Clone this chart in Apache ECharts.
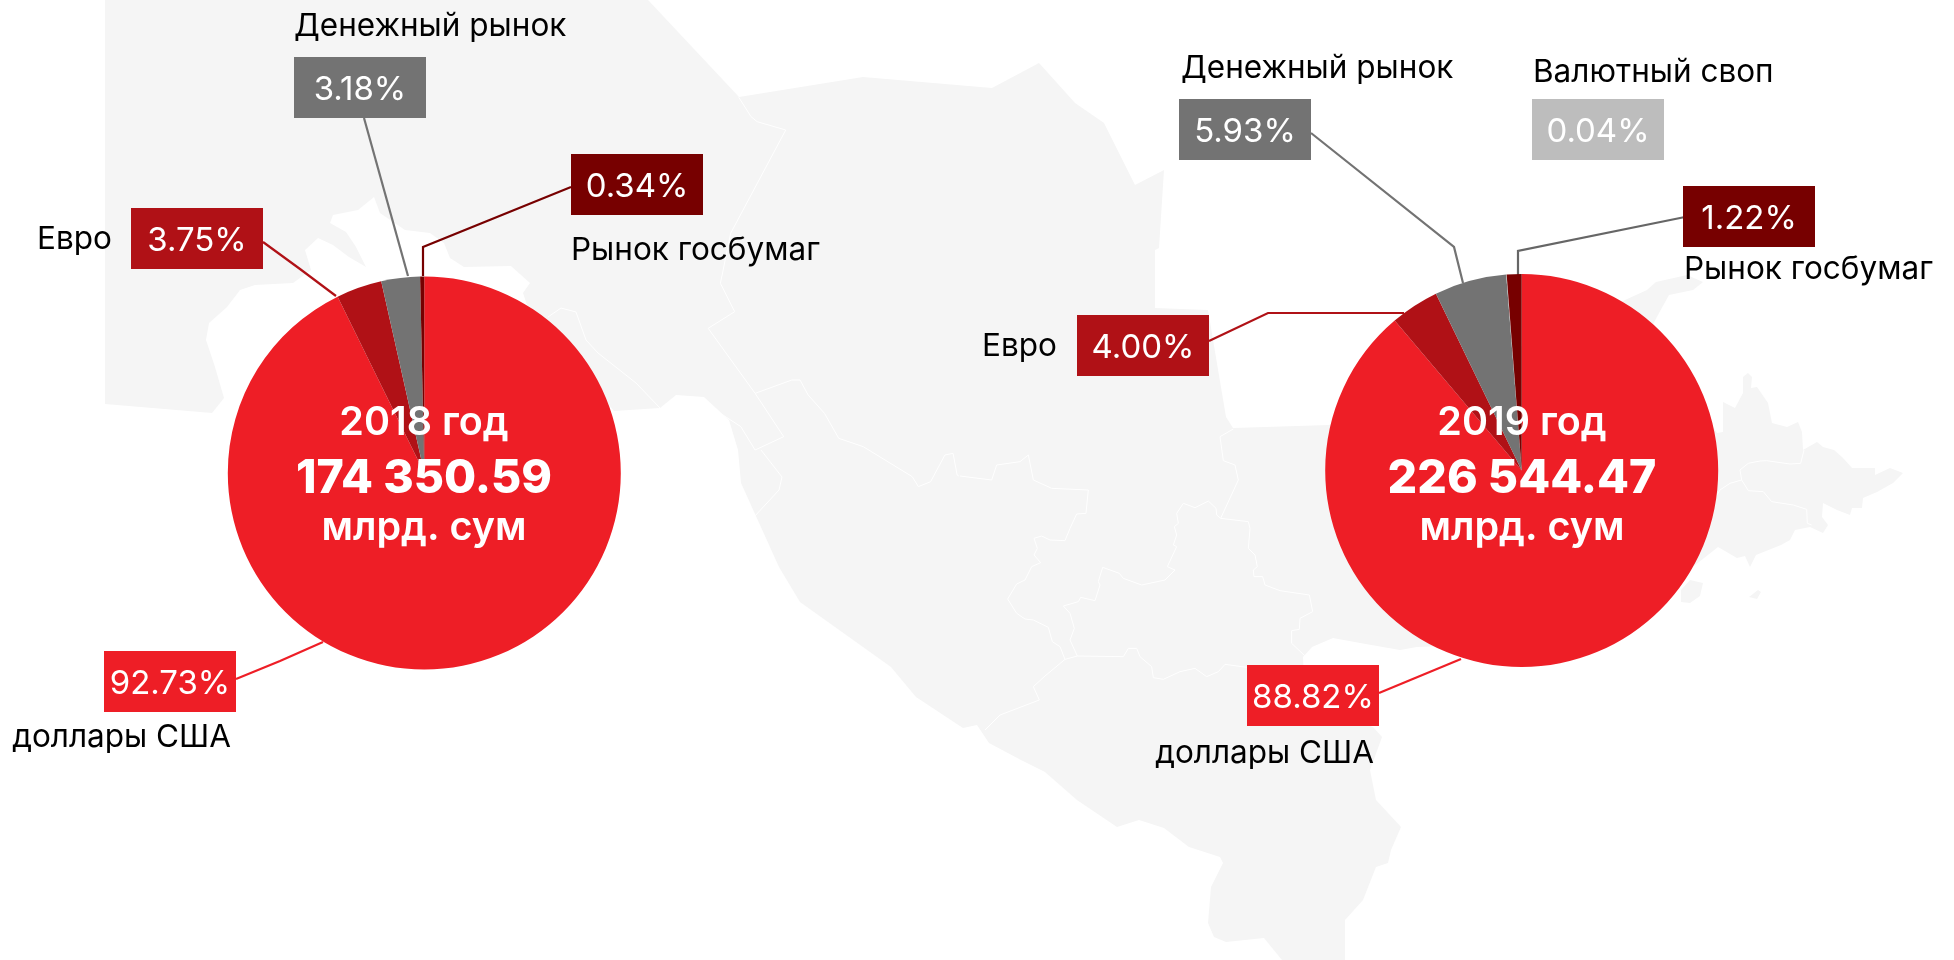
<!DOCTYPE html>
<html><head><meta charset="utf-8">
<style>html,body{margin:0;padding:0;background:#fff}#c{width:1954px;height:960px}</style>
<script src="https://cdn.jsdelivr.net/npm/echarts@6/dist/echarts.min.js"></script>
</head><body><div id="c"></div>
<script>
const years = ['2018 год', '2019 год'];
const totals = ['174 350.59', '226 544.47'];
const unit = 'млрд. сум';
const names2018 = ['доллары США', 'Евро', 'Денежный рынок', 'Рынок госбумаг'];
const values2018 = [92.73, 3.75, 3.18, 0.34];
const names2019 = ['доллары США', 'Евро', 'Денежный рынок', 'Валютный своп', 'Рынок госбумаг'];
const values2019 = [88.82, 4.00, 5.93, 0.04, 1.22];

const colorOf = {'доллары США':'#ee1e26','Евро':'#b01116','Денежный рынок':'#737373','Валютный своп':'#bdbdbd','Рынок госбумаг':'#770000'};
const FONT = 'Inter, "DejaVu Sans", sans-serif';
const BLOCK = 320, BOX = 132;

// label placement: box anchor, name arrangement, leader line
const place2018 = {
 'доллары США':{x:236,y:651,kind:'below',lh:51,right:true,nx:5,line:[[236,679],[280,661],[323,642]],color:'#ee1e26'},
 'Евро':{x:37,y:208,kind:'left',nw:94,line:[[263,242],[300,269],[336,296]],color:'#b01116'},
 'Денежный рынок':{x:294,y:-3,kind:'above',lh:60,nx:0,line:[[364,118],[386,197],[408,276]],color:'#737373'},
 'Рынок госбумаг':{x:571,y:154,kind:'below',lh:72,nx:0,line:[[571,187],[423,247],[423,276]],color:'#770000'}
};
const place2019 = {
 'доллары США':{x:1379,y:665,kind:'below',lh:55,right:true,nx:5,line:[[1379,693],[1420,676],[1461,659]],color:'#ee1e26'},
 'Евро':{x:982,y:315,kind:'left',nw:95,line:[[1209,341],[1268,313],[1404,313]],color:'#b01116'},
 'Денежный рынок':{x:1179,y:39,kind:'above',lh:60,nx:2,line:[[1311,133],[1454,247],[1463,283]],color:'#737373'},
 'Валютный своп':{x:1532,y:47,kind:'above',lh:52,nx:1,line:null},
 'Рынок госбумаг':{x:1683,y:186,kind:'below',lh:45,nx:1,line:[[1685,217],[1518,251],[1518,275]],color:'#666666'}
};

function richFor(name, p){
  const box = {width:BOX,height:55,lineHeight:61,padding:[6,0,0,0],align:'center',verticalAlign:'middle',
    backgroundColor:colorOf[name],color:'#fff',fontSize:33,fontFamily:FONT};
  const nm = {fontSize:31.5,color:'#000',fontFamily:FONT,align:p.right?'right':'left'};
  const fill = {width:BLOCK-BOX,fontSize:10,align:p.right?'left':'right'};
  if(p.kind==='left'){ nm.width=p.nw; nm.height=58; nm.lineHeight=61; nm.padding=[3,0,0,0]; }
  else {
    nm.lineHeight=p.lh; nm.width=BLOCK-p.nx;
    nm.padding=p.right?[0,p.nx,0,0]:[0,0,0,p.nx];
  }
  return {box,nm,fill};
}
function fmtFor(name,val,p){
  const b='{box|'+val.toFixed(2)+'%}', n='{nm|'+name+'}';
  if(p.kind==='left') return n+b;
  const row=p.right?'{fill| }'+b:b+'{fill| }';
  if(p.kind==='above') return n+'\n'+row;
  return row+'\n'+n;
}
function pieSeries(names, values, place, center){
  return {
    type:'pie', center:center, radius:[0,196.5], startAngle:90, clockwise:true,
    avoidLabelOverlap:false, animation:false, silent:true,
    itemStyle:{borderWidth:0},
    label:{show:true,position:'outside'},
    labelLine:{show:true,lineStyle:{width:2.2}},
    labelLayout:function(params){
      const p=place[names[params.dataIndex]];
      const o={x:p.x,y:p.y,align:p.right?'right':'left',verticalAlign:'top'};
      if(p.line) o.labelLinePoints=p.line;
      return o;
    },
    data:names.map((n,i)=>{
      const p=place[n];
      return {name:n,value:values[i],itemStyle:{color:colorOf[n]},
        label:{formatter:fmtFor(n,values[i],p),rich:richFor(n,p)},
        labelLine:p.line?{show:true,lineStyle:{color:p.color,width:2.2}}:{show:false}};
    })
  };
}

// decorative background map
const landOutline=[[105,0],[648,0],[739,97],[863,77],[992,88],[1039,63],[1075,103],[1104,123],[1135,185],[1164,170],[1159,248],[1155,250],[1155,308],[1208,310],[1226,417],[1233,428],[1329,425],[1610,310],[1625,300],[1647,290],[1656,282],[1687,275],[1703,282],[1693,290],[1669,295],[1659,313],[1650,330],[1717,433],[1723,432],[1723,402],[1735,408],[1743,393],[1743,377],[1748,373],[1752,377],[1751,388],[1757,387],[1768,403],[1772,423],[1787,427],[1798,422],[1802,432],[1803,450],[1817,442],[1823,447],[1834,450],[1843,458],[1852,468],[1875,468],[1875,475],[1890,468],[1903,473],[1893,483],[1877,492],[1863,498],[1862,508],[1852,508],[1850,515],[1837,510],[1823,503],[1822,517],[1828,525],[1823,533],[1810,527],[1795,530],[1790,540],[1781,545],[1756,555],[1750,567],[1745,556],[1737,558],[1718,547],[1600,640],[1417,647],[1400,650],[1360,643],[1333,638],[1312,647],[1303,657],[1305,700],[1373,727],[1382,737],[1370,770],[1376,800],[1401,827],[1391,850],[1388,863],[1376,867],[1363,900],[1345,920],[1345,960],[1282,960],[1264,938],[1226,942],[1214,937],[1208,923],[1211,887],[1223,863],[1220,857],[1189,847],[1164,828],[1139,820],[1117,827],[1077,800],[1045,772],[1021,760],[989,743],[977,725],[963,728],[916,697],[891,667],[800,602],[779,567],[741,483],[738,450],[729,420],[704,397],[676,395],[660,408],[614,411],[527,305],[523,293],[530,283],[511,266],[464,267],[450,258],[444,243],[430,233],[405,230],[380,213],[374,197],[358,210],[333,215],[330,223],[346,232],[356,247],[366,267],[349,257],[333,245],[318,238],[305,250],[311,270],[293,283],[255,285],[240,290],[227,307],[209,323],[206,340],[215,367],[224,398],[212,413],[105,404]];
const islands=[[[1681,590],[1690,580],[1703,583],[1700,596],[1690,603],[1681,602]],[[1749,597],[1758,590],[1761,592],[1757,599]]];
const z9=a=>a.map(p=>[960+p[0]/3,420+p[1]/3]);
const z8=a=>a.map(p=>[700+p[0]/2.45,60+p[1]/3]);
const z7=a=>a.map(p=>[1680+p[0]/3,250+p[1]/3]);
const borders=[
 z8([[95,112],[125,170],[140,185],[210,210],[75,520],[50,670],[85,755],[20,805],[135,1000],[205,1130],[135,1170],[100,1100],[50,1060],[0,1015]]),
 z8([[135,1000],[225,960],[245,960],[265,1005],[305,1060],[340,1135],[400,1160],[520,1250],[535,1280],[565,1265],[600,1185],[620,1180],[630,1245],[634,1248]]),
 [[761,450],[782,477],[779,490],[754,517]],
 [[548,317],[561,308],[576,312],[586,340],[598,353],[636,383],[660,408]],
 z9([[0,168],[95,180],[110,135],[180,125],[205,105],[220,180],[275,205],[385,210],[378,280],[350,282],[330,325],[315,362],[270,360],[245,348],[222,355],[232,385],[222,405],[242,428],[215,440],[195,480],[170,492],[143,537],[170,580],[195,597],[220,600],[265,622],[277,665],[300,680],[315,718],[352,708],[490,710],[505,685],[530,685],[540,710],[575,740],[580,773],[610,778],[660,755],[705,745],[740,770],[775,755],[795,733],[860,742]]),
 z9([[315,718],[255,768],[220,800],[238,840],[120,885],[75,930]]),
 z9([[352,708],[330,660],[343,625],[330,580],[310,558],[355,545],[362,532],[405,542],[420,495],[415,485],[428,442],[478,460],[490,475],[545,495],[615,480],[645,450],[622,440],[650,380],[640,375],[650,345],[643,320],[655,310],[650,280],[670,250],[705,263],[745,243],[768,265],[770,285],[782,295],[865,305],[870,325],[865,385],[885,405],[892,440],[880,450],[882,470],[908,470],[915,495],[960,512],[1048,525],[1058,575],[1020,595],[1018,628],[995,632],[995,670],[1035,708]]),
 z9([[782,295],[835,180],[825,135],[790,122],[780,50],[820,27]]),
 z7([[185,690],[150,700],[120,720],[108,740]]),
 z7([[185,690],[180,660],[205,640],[240,633],[260,632],[330,642],[362,640],[372,600]]),
 z7([[185,690],[205,722],[250,725],[275,755],[340,765],[380,778],[382,820],[395,825]])
];
const mapEls=[{type:'polygon',z:-10,silent:true,shape:{points:landOutline},style:{fill:'#f5f5f5'}}]
 .concat(islands.map(a=>({type:'polygon',z:-10,silent:true,shape:{points:a},style:{fill:'#f5f5f5'}})))
 .concat(borders.map(a=>({type:'polyline',z:-9,silent:true,shape:{points:a},style:{stroke:'#ffffff',lineWidth:1,fill:null}})));

function centerTitle(i,x,top){
  return {text:'{a|'+years[i]+'}\n{b|'+totals[i]+'}\n{c|'+unit+'}',left:x,top:top,textAlign:'center',padding:0,
    textStyle:{rich:{
      a:{fontFamily:FONT,fontSize:39.5,fontWeight:600,color:'#fff',lineHeight:62,align:'center'},
      b:{fontFamily:FONT,fontSize:46.5,fontWeight:800,color:'#fff',lineHeight:50,align:'center'},
      c:{fontFamily:FONT,fontSize:39.5,fontWeight:600,color:'#fff',lineHeight:48,align:'center'}
    }}};
}
const chart=echarts.init(document.getElementById('c'),null,{renderer:'canvas',width:1954,height:960});
chart.setOption({
  backgroundColor:'#ffffff',animation:false,
  graphic:{elements:mapEls},
  title:[centerTitle(0,424,392.5),centerTitle(1,1522,392.5)],
  series:[pieSeries(names2018,values2018,place2018,[424.3,473]),pieSeries(names2019,values2019,place2019,[1521.7,470.5])]
});
</script></body></html>
